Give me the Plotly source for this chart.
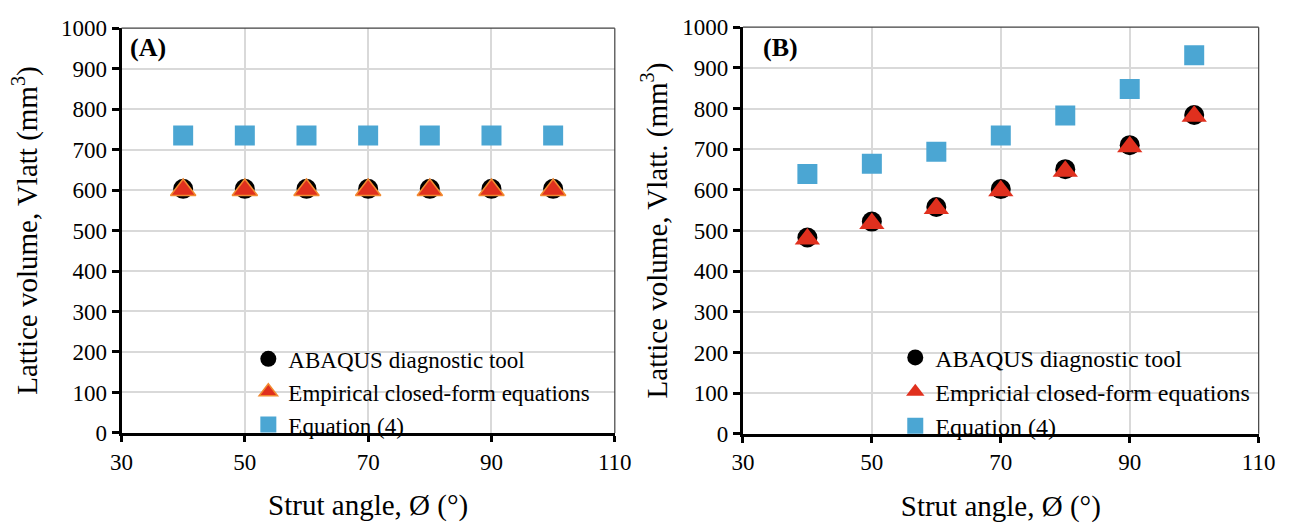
import plotly.graph_objects as go

# Strut angles (degrees)
angles = [40, 50, 60, 70, 80, 90, 100]

# Panel A: lattice volume (mm^3) at constant volume settings
a_abaqus = [603, 603, 603, 603, 603, 603, 603]
a_empirical = [600, 600, 600, 600, 600, 600, 600]
a_equation4 = [735, 735, 735, 735, 735, 735, 735]

# Panel B: lattice volume (mm^3) varying with strut angle
b_abaqus = [483, 522, 558, 602, 651, 710, 784]
b_empirical = [479, 517, 554, 598, 646, 706, 781]
b_equation4 = [639, 664, 694, 734, 783, 848, 931]

x_ticks = [30, 50, 70, 90, 110]
y_ticks = [0, 100, 200, 300, 400, 500, 600, 700, 800, 900, 1000]

FONT = "Liberation Serif, Times New Roman, serif"
BLUE = "#4BA6D3"
RED = "#E0301E"
ORANGE = "#F28A30"

fig = go.Figure()

def add_panel(xa, ya, legend, circ, tri, sq, tri_line, tri_name):
    fig.add_trace(go.Scatter(
        x=angles, y=circ, mode="markers", name="ABAQUS diagnostic tool",
        xaxis=xa, yaxis=ya, legend=legend,
        marker=dict(symbol="circle", size=20, color="black", line=dict(width=0)),
    ))
    fig.add_trace(go.Scatter(
        x=angles, y=tri, mode="markers", name=tri_name,
        xaxis=xa, yaxis=ya, legend=legend,
        marker=dict(symbol="triangle-up", size=22, color=RED,
                    line=dict(width=1.5 if tri_line else 0, color=tri_line or RED)),
    ))
    fig.add_trace(go.Scatter(
        x=angles, y=sq, mode="markers", name="Equation (4)",
        xaxis=xa, yaxis=ya, legend=legend,
        marker=dict(symbol="square", size=20, color=BLUE, line=dict(width=0)),
    ))

add_panel("x", "y", "legend", a_abaqus, a_empirical, a_equation4, ORANGE,
          "Empirical closed-form equations")
add_panel("x2", "y2", "legend2", b_abaqus, b_empirical, b_equation4, None,
          "Empricial closed-form equations")

axis_font = dict(family=FONT, size=23, color="black")
title_font = dict(family=FONT, size=29, color="black")

def xaxis(domain, anchor):
    return dict(
        domain=domain, anchor=anchor, range=[30, 110], tickvals=x_ticks,
        showgrid=True, gridcolor="#D9D9D9", gridwidth=1.5,
        showline=True, linecolor="black", linewidth=3,
        ticks="outside", ticklen=6, tickwidth=3, tickcolor="black",
        tickfont=axis_font, zeroline=False,
        title=dict(text="Strut angle, Ø (°)", font=title_font, standoff=22),
    )

def yaxis(domain, anchor, title, standoff):
    return dict(
        domain=domain, anchor=anchor, range=[0, 1000], tickvals=y_ticks,
        showgrid=True, gridcolor="#D9D9D9", gridwidth=1.5,
        showline=True, linecolor="black", linewidth=3,
        ticks="outside", ticklen=7, tickwidth=3, tickcolor="black",
        tickfont=axis_font, zeroline=False,
        title=dict(text=title, font=title_font, standoff=standoff),
    )

legend_common = dict(
    bgcolor="rgba(0,0,0,0)", borderwidth=0,
    xanchor="left", yanchor="top", itemwidth=30,
    tracegroupgap=0,
)

fig.update_layout(
    width=1304, height=524,
    margin=dict(l=0, r=0, t=0, b=0),
    paper_bgcolor="white", plot_bgcolor="white",
    showlegend=True,
    xaxis=xaxis([0.0866, 0.4732], "y"),
    yaxis=yaxis([0.1565, 0.9676], "x", "Lattice volume, Vlatt (mm<sup>3</sup>)", 15),
    xaxis2=xaxis([0.5736, 0.9778], "y2"),
    yaxis2=yaxis([0.1546, 0.9695], "x2", "Lattice volume, Vlatt. (mm<sup>3</sup>)", 7),
    legend=dict(x=0.186, y=0.348,
                font=dict(family=FONT, size=23, color="black"), **legend_common),
    legend2=dict(x=0.693, y=0.352,
                 font=dict(family=FONT, size=24, color="black"), **legend_common),
    annotations=[
        dict(text="<b>(A)</b>", x=0.0915, y=0.929, xref="paper", yref="paper",
             xanchor="left", yanchor="middle", showarrow=False,
             font=dict(family=FONT, size=26, color="black")),
        dict(text="<b>(B)</b>", x=0.588, y=0.929, xref="paper", yref="paper",
             xanchor="left", yanchor="middle", showarrow=False,
             font=dict(family=FONT, size=26, color="black")),
    ],
    shapes=[
        # thin frame on the top and right of each plot area
        dict(type="line", xref="x domain", yref="y domain", x0=0, x1=1, y0=1, y1=1,
             line=dict(color="#404040", width=1.2)),
        dict(type="line", xref="x domain", yref="y domain", x0=1, x1=1, y0=0, y1=1,
             line=dict(color="#404040", width=1.2)),
        dict(type="line", xref="x2 domain", yref="y2 domain", x0=0, x1=1, y0=1, y1=1,
             line=dict(color="#404040", width=1.2)),
        dict(type="line", xref="x2 domain", yref="y2 domain", x0=1, x1=1, y0=0, y1=1,
             line=dict(color="#404040", width=1.2)),
    ],
)

fig.write_html("out.html")
